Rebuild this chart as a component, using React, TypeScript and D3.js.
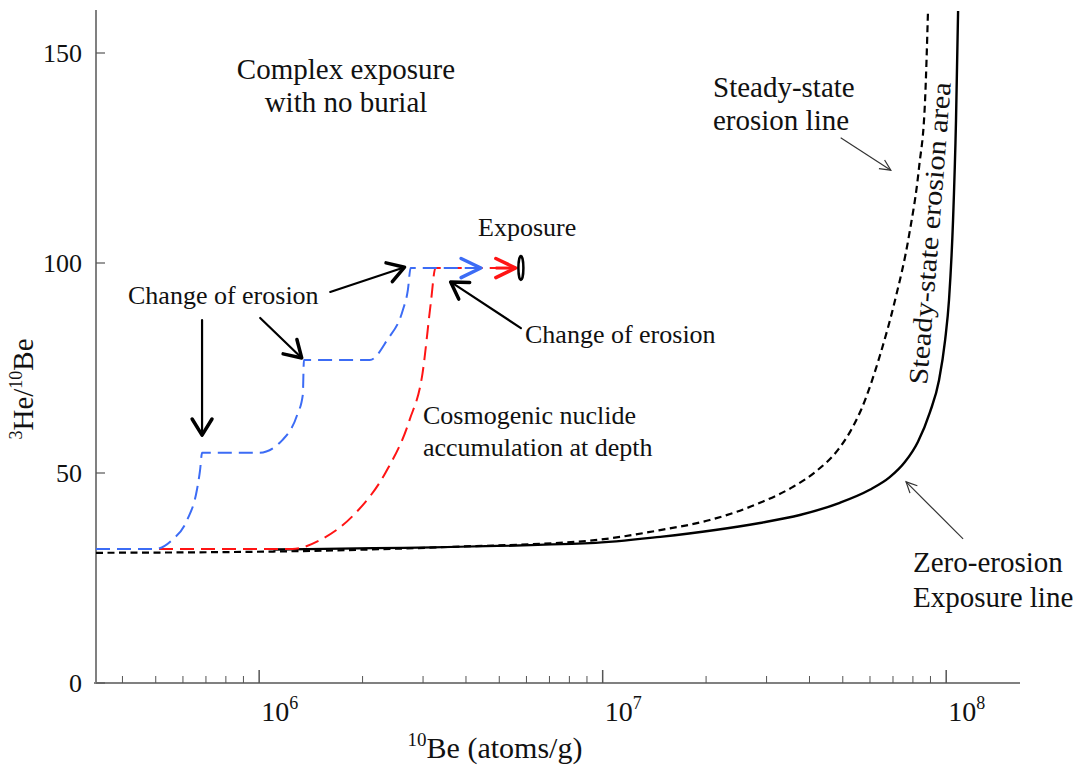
import React from 'react';
import * as d3 from 'd3';

const W = 1076;
const H = 769;
const margin = { top: 11, right: 56, bottom: 86, left: 96 };

// zero-erosion exposure line (solid black)
const zeroX = [1.1e6, 9.19e6, 1.47e7, 2.87e7, 3.75e7, 4.9e7, 5.99e7, 6.85e7, 7.58e7, 8.27e7, 8.97e7, 9.53e7, 9.93e7, 1.019e8, 1.047e8, 1.068e8, 1.083e8];
const zeroY = [31.8, 33.3, 34.8, 38.1, 40.0, 42.9, 46.0, 49.0, 52.6, 57.4, 64.5, 72.1, 81.7, 91.2, 110.2, 134, 160];

// steady-state erosion line (dashed black)
const steadyX = [3.35e5, 1.1e6, 3.59e6, 9.19e6, 1.47e7, 2.05e7, 2.87e7, 3.58e7, 4.15e7, 4.84e7, 5.25e7, 5.65e7, 6.42e7, 7.1e7, 7.8e7, 8.34e7, 8.68e7, 8.85e7];
const steadyY = [31.0, 31.3, 32.4, 33.9, 36.4, 38.8, 42.9, 46.7, 50.2, 55.5, 59.8, 65.0, 78.1, 91.2, 106.7, 122.9, 138.8, 159.8];

// complex exposure path with erosion changes (blue dashed)
const blueX = [3.35e5, 4.97e5, 5.57e5, 6.17e5, 6.59e5, 6.73e5, 6.82e5, 1e6, 1.17e6, 1.29e6, 1.34e6, 1.35e6, 2.1e6, 2.36e6, 2.62e6, 2.71e6, 2.76e6, 4.42e6];
const blueY = [31.9, 31.9, 34.0, 38.8, 46.0, 50.7, 54.8, 54.8, 57.9, 63.8, 68.6, 76.9, 76.9, 81.7, 88.8, 93.6, 98.8, 98.8];

// accumulation at depth (red dashed)
const redX = [3.35e5, 1.25e6, 1.5e6, 1.91e6, 2.33e6, 2.74e6, 2.99e6, 3.16e6, 3.26e6, 5.48e6];
const redY = [31.9, 31.9, 34.0, 40.5, 50.0, 62.6, 73.8, 90.5, 98.8, 98.8];

const yTicks = [0, 50, 100, 150];
const xMajor = [1e6, 1e7, 1e8];

// annotation arrows in data units: [x1, y1, x2, y2]
const boldArrows = [
  [6.82e5, 86.4, 6.82e5, 59.0],
  [1.007e6, 86.9, 1.33e6, 77.4],
  [1.61e6, 93.1, 2.65e6, 99.0],
  [5.78e6, 84.5, 3.61e6, 95.5],
];
const thinArrows = [
  [4.93e7, 129.8, 6.9e7, 122.1],
  [1.12e8, 34.3, 7.64e7, 47.9],
];
const blueTip = [4.42e6, 98.8];
const redTip = [5.58e6, 98.8];
const exposureMark = [5.78e6, 98.8];

const serif = 'Liberation Serif, serif';

function head(x1: number, y1: number, x2: number, y2: number, len: number, ang: number) {
  const a = Math.atan2(y2 - y1, x2 - x1);
  const p1 = [x2 - len * Math.cos(a - ang), y2 - len * Math.sin(a - ang)];
  const p2 = [x2 - len * Math.cos(a + ang), y2 - len * Math.sin(a + ang)];
  return `M${p1[0]},${p1[1]}L${x2},${y2}L${p2[0]},${p2[1]}`;
}

export default function App() {
  const x = d3.scaleLog().domain([3.35e5, 1.64e8]).range([margin.left, W - margin.right]);
  const y = d3.scaleLinear().domain([0, 160]).range([H - margin.bottom, margin.top]);
  const y0 = H - margin.bottom;

  const line = d3.line<number[]>().x(d => x(d[0])).y(d => y(d[1])).curve(d3.curveMonotoneX);
  const zip = (xs: number[], ys: number[]) => xs.map((v, i) => [v, ys[i]]);

  const minorTicks: number[] = [];
  for (let e = 5; e <= 8; e++) {
    for (let m = 1; m <= 9; m++) {
      const v = m * Math.pow(10, e);
      if (v >= 3.35e5 && v <= 1.64e8) minorTicks.push(v);
    }
  }

  return (
    <svg width={W} height={H} style={{ position: 'absolute', left: 0, top: 0, background: '#fff', fontFamily: serif }}>
      {/* axes */}
      <line x1={margin.left} x2={margin.left} y1={margin.top - 1} y2={y0} stroke="#808080" strokeWidth={2} />
      <line x1={margin.left - 2} x2={W - margin.right} y1={y0} y2={y0} stroke="#808080" strokeWidth={2} />
      {yTicks.map(t => (
        <g key={t}>
          <line x1={margin.left} x2={margin.left + 9} y1={y(t)} y2={y(t)} stroke="#555" strokeWidth={1.2} />
          <text x={margin.left - 14} y={y(t)} dy="0.35em" textAnchor="end" fontSize={26} fill="#111">{t}</text>
        </g>
      ))}
      {minorTicks.map(t => {
        const major = xMajor.includes(t);
        return <line key={t} x1={x(t)} x2={x(t)} y1={y0} y2={y0 - (major ? 13 : 7)} stroke="#555" strokeWidth={major ? 1.5 : 1} />;
      })}
      {xMajor.map(t => (
        <text key={t} x={x(t) + 2} y={y0 + 38} fontSize={28} fill="#111">
          10<tspan dy={-12} fontSize={18}>{Math.round(Math.log10(t))}</tspan>
        </text>
      ))}
      <text x={495} y={758} textAnchor="middle" fontSize={30} fill="#111">
        <tspan dy={-12} fontSize={19}>10</tspan><tspan dy={12}>Be (atoms/g)</tspan>
      </text>
      <text transform="translate(33,389) rotate(-90)" textAnchor="middle" fontSize={29} fill="#111">
        <tspan dy={-11} fontSize={18}>3</tspan><tspan dy={11}>He/</tspan><tspan dy={-11} fontSize={18}>10</tspan><tspan dy={11}>Be</tspan>
      </text>

      {/* curves */}
      <path d={line(zip(steadyX, steadyY)) || ''} fill="none" stroke="#000" strokeWidth={2.2} strokeDasharray="7,4.5" />
      <path d={line(zip(zeroX, zeroY)) || ''} fill="none" stroke="#000" strokeWidth={2.4} />
      <path d={line(zip(redX, redY)) || ''} fill="none" stroke="#ff1414" strokeWidth={2} strokeDasharray="14,7" />
      <path d={line(zip(blueX, blueY)) || ''} fill="none" stroke="#3c6cf5" strokeWidth={2} strokeDasharray="14,7" />

      {/* exposure arrowheads and marker */}
      <path d={head(x(blueTip[0]) - 20, y(blueTip[1]), x(blueTip[0]), y(blueTip[1]), 22, 0.45)} fill="none" stroke="#3c6cf5" strokeWidth={3.5} strokeLinecap="round" strokeLinejoin="round" />
      <path d={head(x(redTip[0]) - 20, y(redTip[1]), x(redTip[0]), y(redTip[1]), 22, 0.45)} fill="none" stroke="#ff1414" strokeWidth={3.5} strokeLinecap="round" strokeLinejoin="round" />
      <line x1={x(redTip[0]) - 20} x2={x(redTip[0])} y1={y(redTip[1])} y2={y(redTip[1])} stroke="#ff1414" strokeWidth={3} />
      <ellipse cx={x(exposureMark[0])} cy={y(exposureMark[1])} rx={2.5} ry={12} fill="#fff" stroke="#000" strokeWidth={2.5} />

      {/* annotation arrows */}
      {boldArrows.map((a, i) => {
        const [x1, y1, x2, y2] = [x(a[0]), y(a[1]), x(a[2]), y(a[3])];
        return (
          <g key={i} fill="none" stroke="#000" strokeLinecap="round" strokeLinejoin="round">
            <line x1={x1} y1={y1} x2={x2} y2={y2} strokeWidth={2.2} />
            <path d={head(x1, y1, x2, y2, 19, 0.55)} strokeWidth={3.5} />
          </g>
        );
      })}
      {thinArrows.map((a, i) => {
        const [x1, y1, x2, y2] = [x(a[0]), y(a[1]), x(a[2]), y(a[3])];
        return (
          <g key={i} fill="none" stroke="#333" strokeWidth={1.2}>
            <line x1={x1} y1={y1} x2={x2} y2={y2} />
            <path d={head(x1, y1, x2, y2, 12, 0.45)} />
          </g>
        );
      })}

      {/* labels */}
      <g fill="#111">
        <g fontSize={29}>
          <text x={346} y={79} textAnchor="middle">Complex exposure</text>
          <text x={346} y={112} textAnchor="middle">with no burial</text>
          <text x={713} y={97}>Steady-state</text>
          <text x={713} y={130}>erosion line</text>
          <text x={913} y={572}>Zero-erosion</text>
          <text x={913} y={607}>Exposure line</text>
        </g>
        <text transform="translate(927,385) rotate(-85.5)" fontSize={27} textLength={303} lengthAdjust="spacingAndGlyphs">Steady-state erosion area</text>
        <g fontSize={26}>
          <text x={478} y={236}>Exposure</text>
          <text x={128} y={304}>Change of erosion</text>
          <text x={525} y={343}>Change of erosion</text>
          <text x={423} y={424}>Cosmogenic nuclide</text>
          <text x={423} y={456}>accumulation at depth</text>
        </g>
      </g>
    </svg>
  );
}
